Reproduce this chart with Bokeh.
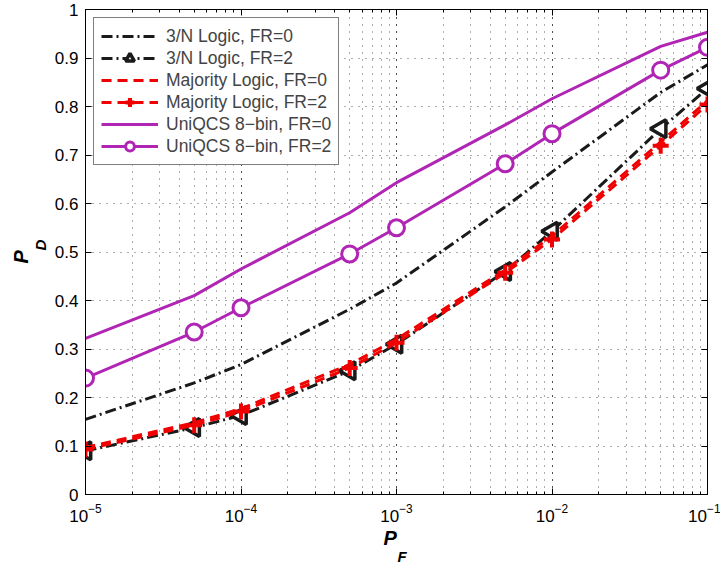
import numpy as np
from bokeh.plotting import figure
from bokeh.models import (LogAxis, LinearAxis, FixedTicker, LogTicker, Legend,
                          LegendItem, Title, Range1d)
from bokeh.embed import file_html
from bokeh.resources import INLINE

# ---------------- data ----------------
pf = [1e-5, 5e-5, 1e-4, 5e-4, 1e-3, 5e-3, 1e-2, 5e-2, 1e-1]
n3_fr0 = [0.155, 0.230, 0.268, 0.382, 0.436, 0.593, 0.665, 0.829, 0.886]
n3_fr2 = [0.090, 0.138, 0.163, 0.255, 0.310, 0.460, 0.543, 0.754, 0.837]
maj_fr0 = [0.097, 0.148, 0.177, 0.268, 0.320, 0.463, 0.533, 0.727, 0.812]
maj_fr2 = [0.093, 0.143, 0.171, 0.261, 0.313, 0.457, 0.526, 0.719, 0.804]
uq_fr0 = [0.322, 0.410, 0.465, 0.581, 0.643, 0.762, 0.816, 0.924, 0.953]
uq_fr2 = [0.240, 0.335, 0.385, 0.496, 0.550, 0.682, 0.744, 0.875, 0.922]

series_labels = ["3/N Logic, FR=0", "3/N Logic, FR=2",
                 "Majority Logic, FR=0", "Majority Logic, FR=2",
                 "UniQCS 8\u2212bin, FR=0", "UniQCS 8\u2212bin, FR=2"]

y_ticks = [0, 0.1, 0.2, 0.3, 0.4, 0.5, 0.6, 0.7, 0.8, 0.9, 1]
y_tick_labels = ["0", "0.1", "0.2", "0.3", "0.4", "0.5", "0.6", "0.7", "0.8", "0.9", "1"]

BLACK = "#1a1a1a"
RED = "#f00000"
MAG = "#b025b4"
FONT = "Liberation Sans"

p = figure(width=720, height=566, x_axis_type="log",
           x_range=Range1d(1e-5, 1e-1), y_range=Range1d(0, 1),
           output_backend="svg", toolbar_location=None,
           min_border_left=85, min_border_right=13,
           min_border_top=9, min_border_bottom=72)
p.background_fill_color = "white"
p.border_fill_color = "white"
p.outline_line_color = "black"
p.outline_line_width = 1

# grids
for g in (p.xgrid, p.ygrid):
    g.grid_line_color = "black"
    g.grid_line_dash = "1 6"
    g.grid_line_alpha = 0.65
p.xgrid.minor_grid_line_color = "black"
p.xgrid.minor_grid_line_dash = "1 6"
p.xgrid.minor_grid_line_alpha = 0.65

xticker = LogTicker(num_minor_ticks=10)
yticker = FixedTicker(ticks=y_ticks)
p.xaxis.ticker = xticker
p.yaxis.ticker = yticker
p.ygrid.ticker = yticker
p.xgrid.ticker = xticker

for ax in p.xaxis + p.yaxis:
    ax.major_tick_in = 6
    ax.major_tick_out = 0
    ax.minor_tick_in = 3
    ax.minor_tick_out = 0
    ax.axis_line_color = "black"
    ax.major_tick_line_color = "black"
    ax.minor_tick_line_color = "black"
    ax.major_label_text_font = FONT
    ax.major_label_text_font_size = "17px"
    ax.major_label_text_color = "black"
p.yaxis.minor_tick_line_color = None
p.xaxis.major_label_standoff = 9
p.yaxis.major_label_standoff = 7
p.yaxis.major_label_overrides = {t: l for t, l in zip(y_ticks, y_tick_labels)}

top = LogAxis(ticker=xticker, major_tick_in=6, major_tick_out=0, minor_tick_in=3,
              minor_tick_out=0, major_label_text_font_size="1px",
              major_label_text_color=None,
              major_label_standoff=0, axis_line_color="black")
right = LinearAxis(ticker=yticker, major_tick_in=6, major_tick_out=0,
                   minor_tick_line_color=None, major_label_text_font_size="1px",
                   major_label_text_color=None,
                   major_label_standoff=0, axis_line_color="black")
p.add_layout(top, "above")
p.add_layout(right, "right")

LW = 3
DASHDOT = "11 4 2 4"
DASHED = "10 6"

r1 = p.line(pf, n3_fr0, line_color=BLACK, line_width=LW, line_dash=DASHDOT)
r2l = p.line(pf, n3_fr2, line_color=BLACK, line_width=LW, line_dash=DASHDOT)
r2m = p.scatter(pf, n3_fr2, marker="triangle", angle=np.pi / 2, size=18,
                line_color=BLACK, line_width=3.5, fill_color="white")
r3 = p.line(pf, maj_fr0, line_color=RED, line_width=LW, line_dash=DASHED)
r4l = p.line(pf, maj_fr2, line_color=RED, line_width=LW, line_dash=DASHED)
r4m = p.scatter(pf, maj_fr2, marker="cross", size=16, line_color=RED, line_width=4)
r5 = p.line(pf, uq_fr0, line_color=MAG, line_width=LW)
r6l = p.line(pf, uq_fr2, line_color=MAG, line_width=LW)
r6m = p.scatter(pf, uq_fr2, marker="circle", size=16, line_color=MAG,
                line_width=3, fill_color="white")

items = [LegendItem(label=series_labels[0], renderers=[r1]),
         LegendItem(label=series_labels[1], renderers=[r2l, r2m]),
         LegendItem(label=series_labels[2], renderers=[r3]),
         LegendItem(label=series_labels[3], renderers=[r4l, r4m]),
         LegendItem(label=series_labels[4], renderers=[r5]),
         LegendItem(label=series_labels[5], renderers=[r6l, r6m])]
legend = Legend(items=items, location="top_left", margin=8, padding=7,
                spacing=0, glyph_width=57, glyph_height=22, label_height=22,
                label_standoff=8, label_text_font=FONT,
                label_text_font_size="17.5px", border_line_color="black",
                border_line_width=1, background_fill_color="white",
                background_fill_alpha=1)
p.add_layout(legend)

# axis titles (P_F and P_D) as stacked side titles: main letter + subscript
t_kw = dict(text_font=FONT, text_font_style="bold italic", text_color="black",
            align="left")
p.add_layout(Title(text="P", text_font_size="20px", offset=298, standoff=0, **t_kw), "below")
p.add_layout(Title(text="F", text_font_size="15px", offset=312, standoff=-6, **t_kw), "below")
p.add_layout(Title(text="D", text_font_size="15px", offset=244, standoff=5, **t_kw), "left")
p.add_layout(Title(text="P", text_font_size="20px", offset=231, standoff=-8, **t_kw), "left")

open("out.html", "w").write(file_html(p, INLINE))
